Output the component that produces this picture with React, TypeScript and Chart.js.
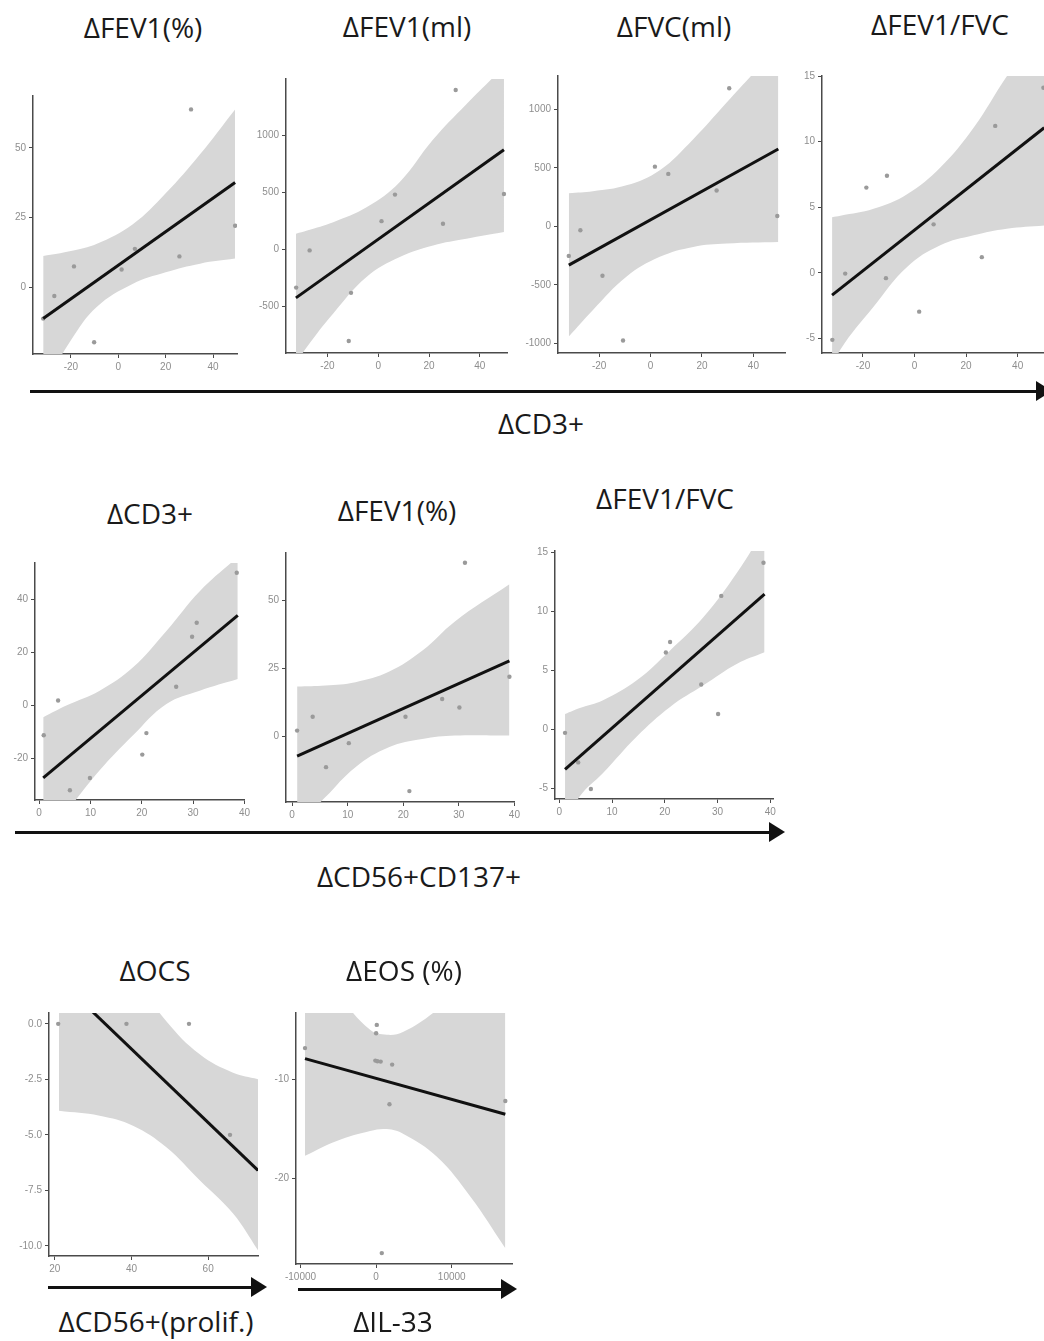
import React, { useEffect, useRef } from "react";
import { Chart, registerables } from "chart.js";

Chart.register(...registerables);

// ---------- Panel A: ΔFEV1(%) vs ΔCD3+ ----------
const aPointsX = [-31.7, -27, -18.7, -10.2, 1.4, 7, 25.8, 30.7, 49.3];
const aPointsY = [-11.2, -3.1, 7.5, -19.7, 6.4, 13.8, 11.1, 63.8, 22.1];
const aBandX = [-31.7, -20, -9, 6, 20, 34.5, 49.3];
const aBandUpper = [11.2, 13, 15.6, 22.5, 33.7, 47.7, 63.8];
const aBandLower = [-36, -19, -7, 1.2, 5.4, 8.5, 10.3];
const aFitX = [-31.7, 49.3];
const aFitY = [-11.2, 37.6];
const aXTicks = [-20, 0, 20, 40];
const aYTicks = [0, 25, 50];

// ---------- Panel B: ΔFEV1(ml) vs ΔCD3+ ----------
const bPointsX = [-32.3, -27, -11.6, -10.7, 1.3, 6.6, 25.5, 30.5, 49.5];
const bPointsY = [-334, -9, -801, -380, 247, 479, 224, 1394, 485];
const bBandX = [-32.4, -28, -17.7, -4.6, 8.5, 21.6, 34.7, 49.5];
const bBandUpper = [137, 165, 238, 368, 590, 960, 1269, 1597];
const bBandLower = [-1000, -851, -560, -241, -67, 35, 93, 151];
const bFitX = [-32.4, 49.5];
const bFitY = [-424, 871];
const bXTicks = [-20, 0, 20, 40];
const bYTicks = [-500, 0, 500, 1000];

// ---------- Panel C: ΔFVC(ml) vs ΔCD3+ ----------
const cPointsX = [-31.8, -27.3, -18.7, -10.7, 1.7, 6.9, 25.7, 30.6, 49.3];
const cPointsY = [-253, -34, -423, -976, 510, 448, 306, 1180, 88];
const cBandX = [-31.8, -22.4, -9.4, 3.6, 16.6, 29.6, 49.7];
const cBandUpper = [283, 300, 350, 480, 745, 1058, 1540];
const cBandLower = [-942, -715, -431, -261, -176, -147, -134];
const cFitX = [-31.8, 49.7];
const cFitY = [-332, 661];
const cXTicks = [-20, 0, 20, 40];
const cYTicks = [-1000, -500, 0, 500, 1000];

// ---------- Panel D: ΔFEV1/FVC vs ΔCD3+ ----------
const dPointsX = [-31.9, -26.9, -18.7, -11.1, -10.7, 1.8, 7.4, 26.1, 31.3, 50];
const dPointsY = [-5.1, -0.05, 6.5, -0.4, 7.4, -2.95, 3.7, 1.2, 11.2, 14.1];
const dBandX = [-32, -28.8, -15.9, -2.9, 10, 22.9, 35.8, 50.3];
const dBandUpper = [4.24, 4.35, 4.88, 6.0, 8.03, 11.06, 14.98, 18.9];
const dBandLower = [-7.6, -5.86, -2.58, 0.45, 2.1, 2.86, 3.36, 3.61];
const dFitX = [-32, 50.3];
const dFitY = [-1.69, 11.06];
const dXTicks = [-20, 0, 20, 40];
const dYTicks = [-5, 0, 5, 10, 15];

// ---------- Panel E: ΔCD3+ vs ΔCD56+CD137+ ----------
const ePointsX = [0.9, 3.7, 6.0, 9.9, 20.1, 20.9, 26.7, 29.8, 30.7, 38.5];
const ePointsY = [-11.2, 1.9, -31.9, -27.3, -18.5, -10.4, 7.1, 25.9, 31.2, 50];
const eBandX = [0.8, 5.3, 11.8, 18.3, 24.8, 31.3, 38.7];
const eBandUpper = [-4.4, 0, 5.6, 14.4, 28.1, 43.1, 56];
const eBandLower = [-50, -40, -24.4, -11.2, 0.6, 5.6, 10];
const eFitX = [0.8, 38.7];
const eFitY = [-27.3, 34.0];
const eXTicks = [0, 10, 20, 30, 40];
const eYTicks = [-20, 0, 20, 40];

// ---------- Panel F: ΔFEV1(%) vs ΔCD56+CD137+ ----------
const fPointsX = [0.9, 3.7, 6.1, 10.2, 20.4, 21.1, 27, 30.1, 31.1, 39.1];
const fPointsY = [2.2, 7.3, -11.2, -2.4, 7.3, -20, 13.8, 10.7, 63.8, 22];
const fBandX = [0.9, 6, 11.4, 17.4, 23.4, 29.3, 39.1];
const fBandUpper = [18.4, 18.8, 20.0, 23.8, 31.5, 42.3, 55.9];
const fBandLower = [-32.8, -22.2, -11.2, -3.9, -0.9, 0.4, 0.4];
const fFitX = [0.9, 39.1];
const fFitY = [-7.2, 27.8];
const fXTicks = [0, 10, 20, 30, 40];
const fYTicks = [0, 25, 50];

// ---------- Panel G: ΔFEV1/FVC vs ΔCD56+CD137+ ----------
const gPointsX = [1.1, 3.6, 6.0, 20.2, 21.0, 26.9, 30.1, 30.7, 38.7];
const gPointsY = [-0.3, -2.8, -5.05, 6.5, 7.4, 3.8, 1.3, 11.3, 14.1];
const gBandX = [1.1, 3.9, 8.3, 14.7, 21, 27.3, 33.7, 38.9];
const gBandUpper = [1.29, 1.8, 2.47, 4.15, 6.68, 9.48, 13.27, 17];
const gBandLower = [-8.1, -5.67, -3.7, -0.6, 1.9, 3.73, 5.56, 6.53];
const gFitX = [1.1, 38.9];
const gFitY = [-3.4, 11.45];
const gXTicks = [0, 10, 20, 30, 40];
const gYTicks = [-5, 0, 5, 10, 15];

// ---------- Panel H: ΔOCS vs ΔCD56+(prolif.) ----------
const hPointsX = [20.9, 38.7, 55, 65.7];
const hPointsY = [0, 0, 0, -5];
const hBandX = [21.1, 31.7, 40.4, 49.1, 57.8, 66.5, 73];
const hBandUpper = [7.9, 4.6, 2.2, 0.12, -1.37, -2.2, -2.49];
const hBandLower = [-3.92, -4.14, -4.59, -5.56, -7.05, -8.55, -10.2];
const hFitX = [21.1, 73];
const hFitY = [2.0, -6.6];
const hXTicks = [20, 40, 60];
const hYTicks = [-10, -7.5, -5, -2.5, 0];

// ---------- Panel I: ΔEOS (%) vs ΔIL-33 ----------
const iPointsX = [-9404, -100, 0, 88, 172, 600, 1766, 2119, 17086, 750];
const iPointsY = [-6.84, -8.1, -5.34, -4.5, -8.17, -8.2, -12.5, -8.5, -12.17, -27.5];
const iBandX = [-9404, -5205, -795, 1417, 3616, 8040, 12450, 17086];
const iBandUpper = [1.9, -1.4, -5.0, -5.5, -5.2, -3.0, 0, 3];
const iBandLower = [-17.7, -16.2, -15.2, -15.0, -15.5, -17.8, -21.8, -27.0];
const iFitX = [-9404, 17086];
const iFitY = [-7.9, -13.5];
const iXTicks = [-10000, 0, 10000];
const iYTicks = [-20, -10];

// ---------- styling / layout ----------
const YW = 40;
const PAD_T = 8;
const PAD_R = 8;
const XH = 26;
const BAND = "#d7d7d7";
const AXIS = "#4a4a4a";
const TICK = "#8e8e8e";
const POINT = "#9a9a9a";
const TEXT_FONT = "'Open Sans', 'Noto Sans', sans-serif";

type PanelDef = {
  rect: [number, number, number, number];
  px: number[];
  py: number[];
  bx: number[];
  bu: number[];
  bl: number[];
  fx: number[];
  fy: number[];
  xr: [number, number];
  yr: [number, number];
  xt: number[];
  yt: number[];
  yDec?: number;
};

const panels: PanelDef[] = [
  { rect: [33, 95, 237, 354], px: aPointsX, py: aPointsY, bx: aBandX, bu: aBandUpper, bl: aBandLower, fx: aFitX, fy: aFitY, xr: [-36, 50.1], yr: [-23.9, 68.6], xt: aXTicks, yt: aYTicks },
  { rect: [286, 78, 507, 353], px: bPointsX, py: bPointsY, bx: bBandX, bu: bBandUpper, bl: bBandLower, fx: bFitX, fy: bFitY, xr: [-36.3, 50.7], yr: [-906, 1490], xt: bXTicks, yt: bYTicks },
  { rect: [558, 75, 785, 353], px: cPointsX, py: cPointsY, bx: cBandX, bu: cBandUpper, bl: cBandLower, fx: cFitX, fy: cFitY, xr: [-36, 52.3], yr: [-1083, 1285], xt: cXTicks, yt: cYTicks },
  { rect: [822, 75, 1046, 353], px: dPointsX, py: dPointsY, bx: dBandX, bu: dBandUpper, bl: dBandLower, fx: dFitX, fy: dFitY, xr: [-35.9, 51], yr: [-6.1, 15], xt: dXTicks, yt: dYTicks },
  { rect: [35, 562, 245, 800], px: ePointsX, py: ePointsY, bx: eBandX, bu: eBandUpper, bl: eBandLower, fx: eFitX, fy: eFitY, xr: [-0.8, 40], yr: [-35.6, 53.7], xt: eXTicks, yt: eYTicks },
  { rect: [286, 552, 515, 802], px: fPointsX, py: fPointsY, bx: fBandX, bu: fBandUpper, bl: fBandLower, fx: fFitX, fy: fFitY, xr: [-1.1, 40.1], yr: [-24, 67.4], xt: fXTicks, yt: fYTicks },
  { rect: [555, 550, 773, 799], px: gPointsX, py: gPointsY, bx: gBandX, bu: gBandUpper, bl: gBandLower, fx: gFitX, fy: gFitY, xr: [-0.8, 40.5], yr: [-5.9, 15.1], xt: gXTicks, yt: gYTicks },
  { rect: [49, 1012, 258, 1256], px: hPointsX, py: hPointsY, bx: hBandX, bu: hBandUpper, bl: hBandLower, fx: hFitX, fy: hFitY, xr: [18.5, 73], yr: [-10.46, 0.49], xt: hXTicks, yt: hYTicks, yDec: 1 },
  { rect: [296, 1012, 512, 1264], px: iPointsX, py: iPointsY, bx: iBandX, bu: iBandUpper, bl: iBandLower, fx: iFitX, fy: iFitY, xr: [-10596, 17970], yr: [-28.6, -3.3], xt: iXTicks, yt: iYTicks },
];

const titles: [string, number, number][] = [
  ["ΔFEV1(%)", 143, 27],
  ["ΔFEV1(ml)", 407, 26],
  ["ΔFVC(ml)", 674, 26],
  ["ΔFEV1/FVC", 940, 24],
  ["ΔCD3+", 541, 423],
  ["ΔCD3+", 150, 513],
  ["ΔFEV1(%)", 397, 510],
  ["ΔFEV1/FVC", 665, 498],
  ["ΔCD56+CD137+", 419, 876],
  ["ΔOCS", 155, 970],
  ["ΔEOS (%)", 404, 970],
  ["ΔCD56+(prolif.)", 156, 1321],
  ["ΔIL-33", 393, 1321],
];

const arrows: [number, number, number][] = [
  [30, 1052, 391],
  [15, 785, 832],
  [48, 267, 1287],
  [298, 517, 1289],
];

function zip(a: number[], b: number[]) {
  return a.map((x, i) => ({ x, y: b[i] }));
}

function Panel({ def }: { def: PanelDef }) {
  const ref = useRef<HTMLCanvasElement | null>(null);
  const [L, T, R, B] = def.rect;
  const width = R - L + YW + PAD_R;
  const height = B - T + PAD_T + XH;

  useEffect(() => {
    if (!ref.current) return;
    const tickFont = { size: 10, family: "'Liberation Sans', sans-serif" };
    const chart = new Chart(ref.current, {
      type: "line",
      data: {
        datasets: [
          {
            data: zip(def.bx, def.bu),
            borderColor: "transparent",
            borderWidth: 0,
            pointRadius: 0,
            fill: "+1",
            backgroundColor: BAND,
            tension: 0.4,
            order: 2,
          },
          {
            data: zip(def.bx, def.bl),
            borderColor: "transparent",
            borderWidth: 0,
            pointRadius: 0,
            fill: false,
            tension: 0.4,
            order: 2,
          },
          {
            data: zip(def.fx, def.fy),
            borderColor: "#111111",
            borderWidth: 3,
            pointRadius: 0,
            fill: false,
            order: 0,
          },
          {
            data: zip(def.px, def.py),
            showLine: false,
            pointRadius: 2.2,
            pointBorderWidth: 0,
            pointBackgroundColor: POINT,
            order: 1,
          },
        ],
      } as any,
      options: {
        animation: false,
        responsive: false,
        maintainAspectRatio: false,
        devicePixelRatio: 1,
        layout: { padding: { left: 0, top: PAD_T, right: PAD_R, bottom: 0 } },
        plugins: { legend: { display: false }, tooltip: { enabled: false } },
        scales: {
          x: {
            type: "linear",
            min: def.xr[0],
            max: def.xr[1],
            afterBuildTicks: (s: any) => {
              s.ticks = def.xt.map((v) => ({ value: v }));
            },
            afterFit: (s: any) => {
              s.height = XH;
            },
            grid: { display: true, drawOnChartArea: false, drawTicks: true, tickLength: 4, color: AXIS, lineWidth: 1 },
            border: { display: true, color: AXIS, width: 1.5 },
            ticks: {
              color: TICK,
              font: tickFont,
              padding: 3,
              maxRotation: 0,
              autoSkip: false,
              callback: (v: any) => String(v),
            },
          },
          y: {
            type: "linear",
            min: def.yr[0],
            max: def.yr[1],
            afterBuildTicks: (s: any) => {
              s.ticks = def.yt.map((v) => ({ value: v }));
            },
            afterFit: (s: any) => {
              s.width = YW;
            },
            grid: { display: true, drawOnChartArea: false, drawTicks: true, tickLength: 4, color: AXIS, lineWidth: 1 },
            border: { display: true, color: AXIS, width: 1.5 },
            ticks: {
              color: TICK,
              font: tickFont,
              padding: 3,
              autoSkip: false,
              callback: (v: any) => (def.yDec ? Number(v).toFixed(def.yDec) : String(v)),
            },
          },
        },
      } as any,
    });
    return () => chart.destroy();
  }, [def]);

  return (
    <canvas
      ref={ref}
      width={width}
      height={height}
      style={{ position: "absolute", left: L - YW, top: T - PAD_T, width, height }}
    />
  );
}

function Arrow({ x1, x2, y }: { x1: number; x2: number; y: number }) {
  const head = 16;
  const half = 10;
  return (
    <>
      <div
        style={{
          position: "absolute",
          left: x1,
          top: y - 1.5,
          width: x2 - head - x1 + 1,
          height: 3,
          background: "#111",
        }}
      />
      <div
        style={{
          position: "absolute",
          left: x2 - head,
          top: y - half,
          width: 0,
          height: 0,
          borderTop: `${half}px solid transparent`,
          borderBottom: `${half}px solid transparent`,
          borderLeft: `${head}px solid #111`,
        }}
      />
    </>
  );
}

export default function App() {
  return (
    <div
      style={{
        position: "absolute",
        left: 0,
        top: 0,
        width: 1044,
        height: 1341,
        overflow: "hidden",
        background: "#fff",
      }}
    >
      {panels.map((p, i) => (
        <Panel key={i} def={p} />
      ))}
      {arrows.map(([x1, x2, y], i) => (
        <Arrow key={"a" + i} x1={x1} x2={x2} y={y} />
      ))}
      {titles.map(([t, cx, cy], i) => (
        <div
          key={"t" + i}
          style={{
            position: "absolute",
            left: cx,
            top: cy,
            transform: "translate(-50%, -50%)",
            fontFamily: TEXT_FONT,
            fontSize: 28,
            lineHeight: 1,
            whiteSpace: "nowrap",
            color: "#1a1a1a",
          }}
        >
          {t}
        </div>
      ))}
    </div>
  );
}
